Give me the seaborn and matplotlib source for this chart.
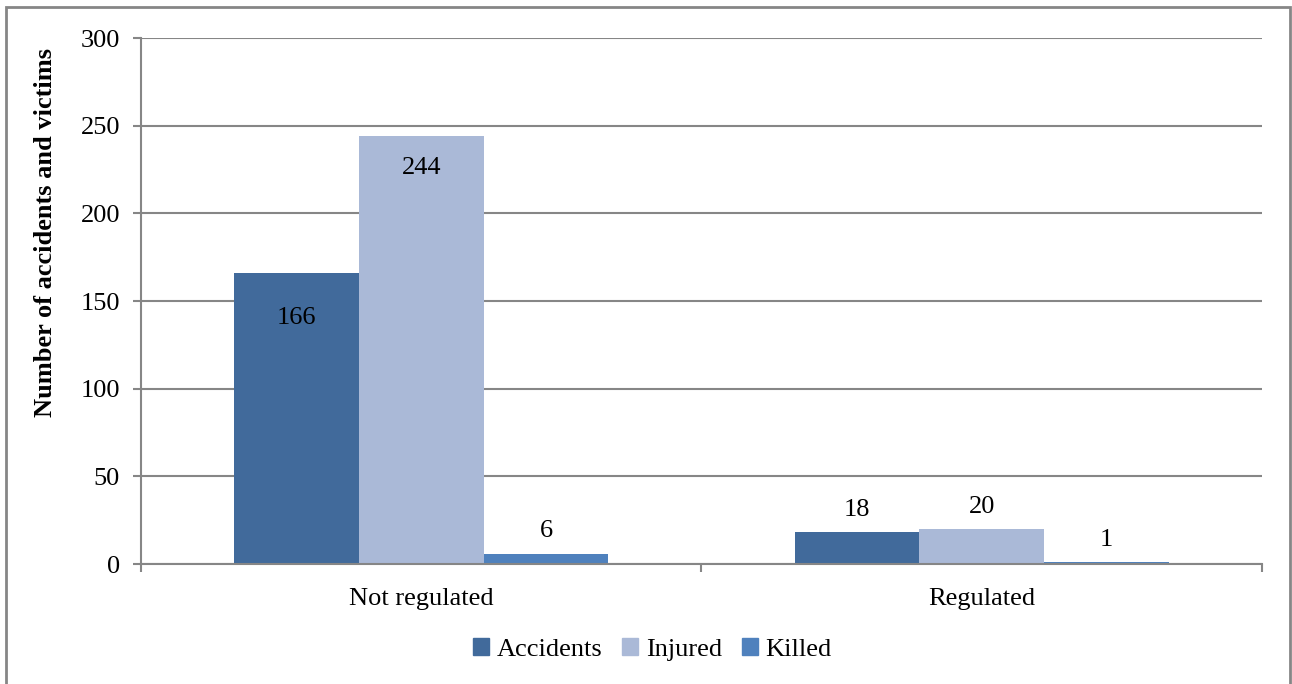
import pandas as pd
import matplotlib.pyplot as plt
import matplotlib.patches as mpatches
import seaborn as sns

# data
groups = ["Not regulated", "Regulated"]
series = ["Accidents", "Injured", "Killed"]
accidents = [166, 18]
injured = [244, 20]
killed = [6, 1]
colors = ["#416A9B", "#AAB9D7", "#4F81BD"]

df = pd.DataFrame({
    "group": groups * 3,
    "series": [s for s in series for _ in groups],
    "value": accidents + injured + killed,
})

sns.set_style("white")
plt.rcParams["font.family"] = ["Liberation Serif", "DejaVu Serif"]
plt.rcParams["text.color"] = "black"
plt.rcParams["xtick.labelcolor"] = "black"
plt.rcParams["ytick.labelcolor"] = "black"
plt.rcParams["axes.labelcolor"] = "black"

fig = plt.figure(figsize=(12.92, 6.84), dpi=100)
ax = fig.add_axes([0.1091, 0.1754, 0.8677, 0.769])

sns.barplot(data=df, x="group", y="value", hue="series", order=groups,
            hue_order=series, palette=colors, width=0.668, saturation=1,
            linewidth=0, ax=ax, legend=False)

# data labels: big bars get the label inside, the rest sit on top
inside_pad = [-40, -31, -31]
for cont, pad in zip(ax.containers, inside_pad):
    vals = [p.get_height() for p in cont]
    inside = [f"{v:.0f}" if v > 100 else "" for v in vals]
    outside = [f"{v:.0f}" if v <= 100 else "" for v in vals]
    ax.bar_label(cont, labels=inside, padding=pad, fontsize=19)
    ax.bar_label(cont, labels=outside, padding=8, fontsize=19)

ax.set_ylim(0, 300)
ax.set_yticks(range(0, 301, 50))
ax.set_xlim(-0.5, 1.5)
ax.set_xticks([-0.5, 0.5, 1.5], minor=True)
ax.tick_params(axis="x", which="major", length=0, pad=17, labelsize=19)
ax.tick_params(axis="x", which="minor", length=6, width=1.5, color="#868686",
               direction="out", bottom=True)
ax.tick_params(axis="y", length=6, width=1.5, color="#868686", direction="out",
               left=True, pad=9, labelsize=19)
ax.grid(axis="y", color="#868686", linewidth=1.5)
ax.set_axisbelow(True)
for side in ["top", "right"]:
    ax.spines[side].set_visible(False)
for side in ["left", "bottom"]:
    ax.spines[side].set_color("#868686")
    ax.spines[side].set_linewidth(1.5)
ax.set_xlabel("")
ax.set_ylabel("Number of accidents and victims", fontsize=19, fontweight="bold")
ax.yaxis.set_label_coords(-0.075, 0.63)

handles = [mpatches.Patch(color=c, label=s) for c, s in zip(colors, series)]
fig.legend(handles=handles, loc="center", bbox_to_anchor=(0.505, 0.05), ncol=3,
           frameon=False, fontsize=19, handlelength=0.6, handleheight=0.6,
           handletextpad=0.3, columnspacing=0.75)

# outer chart border
fig.patches.append(mpatches.Rectangle((0.0046, -0.05), 0.9938, 1.0398,
                                      transform=fig.transFigure, fill=False,
                                      edgecolor="#868686", linewidth=2))

fig.savefig("out.png", dpi=100)
